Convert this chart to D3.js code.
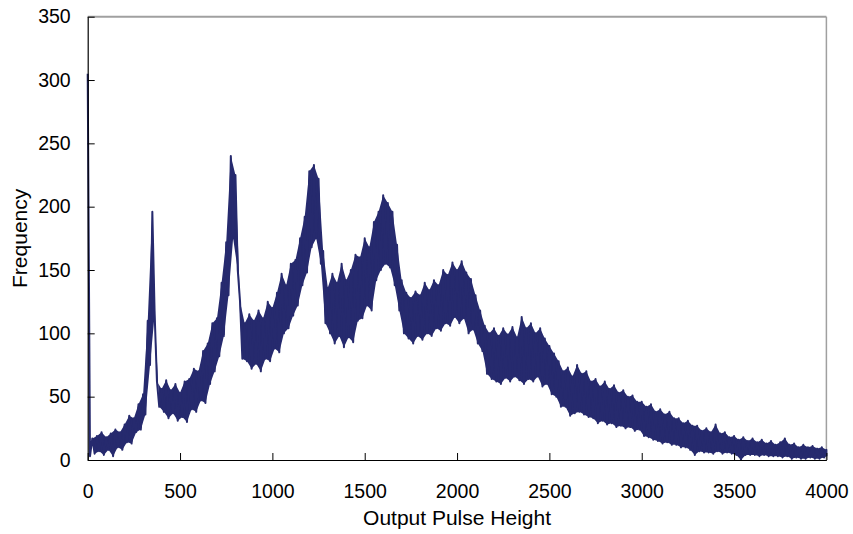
<!DOCTYPE html>
<html>
<head>
<meta charset="utf-8">
<script src="https://cdn.jsdelivr.net/npm/d3@7"></script>
<style>
  body { margin: 0; background: #fff; }
  svg text { font-family: "Liberation Sans", Arial, sans-serif; fill: #000; }
</style>
</head>
<body>
<svg id="chart" width="853" height="534"></svg>
<script>
// pulse height bins (step 25), upper and lower edge of the noisy trace
const binStart = 0, binStep = 25;
const highs = [
  305, 17, 19, 22, 18, 21, 24, 22, 28, 35, 33, 44, 52, 110, 196, 62,
  56, 63, 55, 60, 53, 62, 64, 72, 70, 86, 92, 108, 112, 140, 172, 240,
  225, 125, 108, 115, 110, 118, 112, 125, 120, 132, 147, 138, 155, 158, 175, 192,
  228, 233, 222, 165, 136, 147, 140, 155, 142, 150, 162, 160, 175, 168, 188, 196,
  209, 203, 196, 170, 142, 132, 128, 133, 130, 140, 134, 142, 138, 150, 146, 156,
  150, 157, 148, 143, 130, 118, 106, 100, 104, 98, 104, 99, 105, 97, 113, 104,
  108, 100, 104, 96, 90, 84, 78, 70, 73, 66, 75, 68, 70, 62, 64, 58,
  62, 56, 59, 53, 55, 50, 51, 46, 46, 42, 44, 38, 40, 36, 38, 33,
  33, 29, 31, 27, 27, 23, 25, 22, 28, 21, 22, 18, 19, 16, 18, 15,
  17, 14, 16, 13, 15, 12, 14, 17, 12, 13, 10, 12, 10, 11, 9, 10,
  8
];
const lows = [
  3, 5, 7, 4, 8, 3, 10, 8, 14, 13, 22, 24, 36, 75, 115, 42,
  38, 33, 37, 31, 34, 30, 40, 38, 47, 45, 60, 70, 82, 98, 130, 175,
  150, 80, 78, 72, 76, 70, 80, 78, 88, 85, 100, 104, 114, 122, 138, 148,
  168, 175, 155, 108, 100, 92, 98, 89, 97, 93, 110, 112, 122, 118, 142, 150,
  155, 152, 138, 118, 100, 96, 92, 98, 95, 100, 98, 104, 102, 108, 106, 113,
  108, 112, 100, 103, 92, 86, 68, 64, 62, 60, 65, 62, 66, 63, 60, 64,
  62, 66, 58, 60, 52, 50, 42, 42, 35, 37, 38, 36, 34, 33, 29, 31,
  28, 29, 26, 27, 25, 26, 23, 24, 19, 18, 16, 15, 13, 14, 12, 12,
  10, 10, 8, 4, 7, 6, 6, 5, 7, 5, 6, 5, 4, 0, 4, 4,
  4, 3, 4, 3, 3, 3, 2, 3, 1, 2, 1, 1, 2, 1, 1, 2,
  3
];
const xTicks = [0, 500, 1000, 1500, 2000, 2500, 3000, 3500, 4000];
const yTicks = [0, 50, 100, 150, 200, 250, 300, 350];
const xTitle = "Output Pulse Height";
const yTitle = "Frequency";

const svg = d3.select("#chart");
const plotLeft = 87.7, plotRight = 826.4, plotTop = 16.7, plotBottom = 460;
const navy = "#262a6e";

const x = d3.scaleLinear().domain([0, 4000]).range([plotLeft, plotRight]);
const y = d3.scaleLinear().domain([0, 350]).range([plotBottom, plotTop]);

// each bin: upper edge at its start, lower edge half a bin later
const bins = highs.map((h, i) => {
  const x0 = binStart + i * binStep;
  return { xh: x0, h: h, xl: Math.min(x0 + binStep / 2, 4000), l: lows[i] };
});
const trace = [];
bins.forEach(b => { trace.push([b.xh, b.h]); trace.push([b.xl, b.l]); });

// frame (top / right in grey)
svg.append("line")
  .attr("x1", plotLeft).attr("x2", plotRight).attr("y1", plotTop).attr("y2", plotTop)
  .attr("stroke", "#a0a0a0").attr("stroke-width", 2);
svg.append("line")
  .attr("x1", plotRight).attr("x2", plotRight).attr("y1", plotTop).attr("y2", plotBottom)
  .attr("stroke", "#a0a0a0").attr("stroke-width", 1.5);

// dense core of the noisy trace
svg.append("path")
  .datum(bins.slice(1))
  .attr("fill", navy)
  .attr("d", d3.area()
    .x1(d => x(d.xh)).y1(d => y(d.h))
    .x0(d => x(d.xl)).y0(d => y(d.l)));

svg.append("path")
  .datum(trace)
  .attr("fill", "none")
  .attr("stroke", navy)
  .attr("stroke-width", 2)
  .attr("stroke-linejoin", "round")
  .attr("d", d3.line().x(d => x(d[0])).y(d => y(d[1])));

const xAxis = svg.append("g")
  .attr("transform", `translate(0,${plotBottom})`)
  .call(d3.axisBottom(x).tickValues(xTicks).tickFormat(d3.format("d"))
    .tickSizeInner(-7).tickSizeOuter(0).tickPadding(24));
const yAxis = svg.append("g")
  .attr("transform", `translate(${plotLeft},0)`)
  .call(d3.axisLeft(y).tickValues(yTicks).tickFormat(d3.format("d"))
    .tickSizeInner(-7).tickSizeOuter(0).tickPadding(17));

[xAxis, yAxis].forEach(g => {
  g.selectAll("text")
    .style("font-family", '"Liberation Sans", Arial, sans-serif')
    .style("font-size", "19.5px")
    .attr("fill", "#000");
  g.selectAll("line").attr("stroke", "#000");
  g.select(".domain").attr("stroke", "#000").attr("stroke-width", 1.2);
});

svg.append("text")
  .attr("x", (plotLeft + plotRight) / 2)
  .attr("y", 525)
  .attr("text-anchor", "middle")
  .style("font-size", "21px")
  .text(xTitle);

svg.append("text")
  .attr("transform", `translate(27,${(plotTop + plotBottom) / 2}) rotate(-90)`)
  .attr("text-anchor", "middle")
  .style("font-size", "21px")
  .text(yTitle);
</script>
</body>
</html>
